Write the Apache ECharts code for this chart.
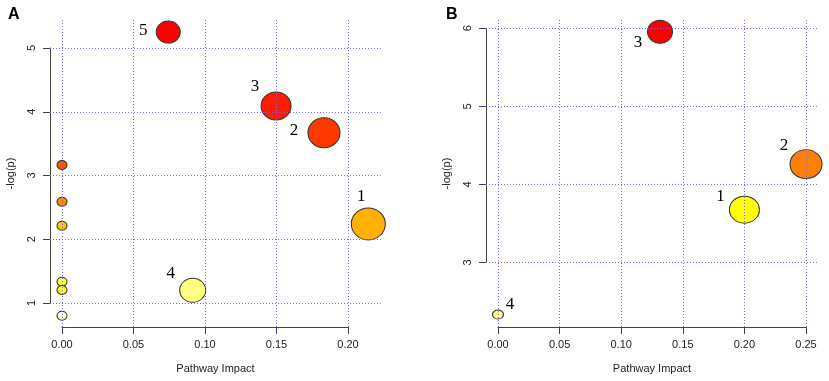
<!DOCTYPE html>
<html>
<head>
<meta charset="utf-8">
<script src="https://cdn.jsdelivr.net/npm/echarts@6/dist/echarts.min.js"></script>
<style>
  html, body { margin: 0; padding: 0; background: #fff; }
  #chart { width: 829px; height: 381px; }
</style>
</head>
<body>
<div id="chart"></div>
<script>
// ---- data ----
const xTicksA = [0, 0.05, 0.10, 0.15, 0.20];
const yTicksA = [1, 2, 3, 4, 5];
const xTicksB = [0, 0.05, 0.10, 0.15, 0.20, 0.25];
const yTicksB = [3, 4, 5, 6];

const impactA = [0.2142, 0.1832, 0.1497, 0.0914, 0.0743, 0, 0, 0, 0, 0, 0];
const logpA   = [2.24, 3.67, 4.09, 1.20, 5.25, 3.165, 2.589, 2.213, 1.334, 1.204, 0.801];
const tagA    = ['1', '2', '3', '4', '5', '', '', '', '', '', ''];

const impactB = [0.200, 0.250, 0.1315, 0.0];
const logpB   = [3.676, 4.26, 5.957, 2.333];
const tagB    = ['1', '2', '3', '4'];

// ---- styles ----
const colorA = ['#ffb000', '#ff3a00', '#ff1c00', '#ffff80', '#ff0000',
                '#ff5500', '#ff8a00', '#ffc200', '#ffff30', '#ffff10', '#ffffdc'];
const sizeA = [[34, 32], [32, 30], [30, 28], [26, 24], [24, 22],
               [10, 9], [10, 9], [10, 9], [10, 9], [10, 9], [10, 9]];
const offsetA = [[-7, -27], [-30, -2], [-21, -19], [-22, -17], [-25, -2],
                 [0, 0], [0, 0], [0, 0], [0, 0], [0, 0], [0, 0]];

const colorB = ['#ffff00', '#ff8000', '#ff0000', '#ffff80'];
const sizeB = [[30, 27], [32, 29], [25, 23], [11, 9]];
const offsetB = [[-24, -13], [-22, -19], [-22, 11], [12, -10]];

// pixel layout: tick range box and whole plot region of each panel
const panels = [
  { axis: { l: 62, r: 348, t: 48, b: 303 }, plot: { l: 50, r: 381, t: 20, b: 327 },
    xt: xTicksA, yr: [1, 5] },
  { axis: { l: 498, r: 806, t: 28.3, b: 262.5 }, plot: { l: 486, r: 818, t: 20, b: 327 },
    xt: xTicksB, yr: [3, 6] }
];

const grid = [], xAxis = [], yAxis = [];
const gridColor = '#6b6bff';
const axisColor = '#444';
const lblFont = { fontFamily: 'Liberation Sans', fontSize: 11, color: '#222' };
const hidden = { show: false, type: 'value', min: 0, max: 1 };

panels.forEach((p, i) => {
  const a = p.axis, q = p.plot;
  const xr = [p.xt[0], p.xt[p.xt.length - 1]];
  const xs = (xr[1] - xr[0]) / (a.r - a.l);
  const ys = (p.yr[1] - p.yr[0]) / (a.b - a.t);
  const bigX = [xr[0] - (a.l - q.l) * xs, xr[1] + (q.r - a.r) * xs];
  const bigY = [p.yr[0] - (q.b - a.b) * ys, p.yr[1] + (a.t - q.t) * ys];
  const g = 3 * i;

  // grid g: whole plot region (data, gridlines, axis names)
  grid.push({ left: q.l, top: q.t, width: q.r - q.l, height: q.b - q.t });
  xAxis.push({
    gridIndex: g, type: 'value', min: bigX[0], max: bigX[1],
    axisLine: { show: false, onZero: false }, axisTick: { show: false }, axisLabel: { show: false },
    splitLine: { show: false },
    name: 'Pathway Impact', nameLocation: 'middle', nameGap: 36,
    nameTextStyle: { fontFamily: 'Liberation Sans', fontSize: 11, color: '#222' }
  });
  yAxis.push({
    gridIndex: g, type: 'value', min: bigY[0], max: bigY[1],
    axisLine: { show: false, onZero: false }, axisTick: { show: false }, axisLabel: { show: false },
    splitLine: { show: false },
    name: '-log(p)', nameLocation: 'middle', nameGap: 34, nameRotate: 90,
    nameTextStyle: { fontFamily: 'Liberation Sans', fontSize: 11, color: '#222' }
  });

  // grid g+1: x tick range across the full plot height (bottom axis, tick labels as categories)
  grid.push({ left: a.l, top: q.t, width: a.r - a.l, height: q.b - q.t });
  xAxis.push({
    gridIndex: g + 1, type: 'category', boundaryGap: false,
    data: p.xt.map(v => v.toFixed(2)),
    axisLine: { show: true, onZero: false, lineStyle: { color: axisColor, width: 1 } },
    axisTick: { show: true, length: 7, interval: 0 },
    axisLabel: Object.assign({ margin: 12, interval: 0 }, lblFont),
    splitLine: { show: false }
  });
  yAxis.push(Object.assign({ gridIndex: g + 1 }, hidden));

  // grid g+2: y tick range across the full plot width (left axis)
  grid.push({ left: q.l, top: a.t, width: q.r - q.l, height: a.b - a.t });
  xAxis.push(Object.assign({ gridIndex: g + 2 }, hidden));
  yAxis.push({
    gridIndex: g + 2, type: 'value', min: p.yr[0], max: p.yr[1], interval: 1,
    axisLine: { show: true, onZero: false, lineStyle: { color: axisColor, width: 1 } },
    axisTick: { show: true, length: 7 },
    axisLabel: Object.assign({ margin: 13, rotate: 90 }, lblFont),
    splitLine: { show: false }
  });
});

function points(xv, yv, tags, colors, sizes, offs) {
  return xv.map((x, k) => ({
    value: [x, yv[k]],
    symbolSize: sizes[k],
    itemStyle: { color: colors[k] },
    label: { show: tags[k] !== '', formatter: tags[k], offset: offs[k] }
  }));
}

function gridLines(xt, yt) {
  return {
    silent: true, symbol: 'none', animation: false,
    label: { show: false },
    lineStyle: { color: gridColor, type: [1, 2], width: 1 },
    data: xt.map(v => ({ xAxis: v })).concat(yt.map(v => ({ yAxis: v })))
  };
}

const seriesBase = {
  type: 'scatter', symbol: 'circle', clip: false, animation: false,
  itemStyle: { borderColor: '#333', borderWidth: 1, opacity: 1 },
  label: { position: 'inside', fontFamily: 'Liberation Serif', fontSize: 17, color: '#000' },
  emphasis: { disabled: true }
};

const chart = echarts.init(document.getElementById('chart'), null, { renderer: 'canvas' });
chart.setOption({
  backgroundColor: '#fff',
  animation: false,
  title: [
    { text: 'A', left: 3, top: 2, textStyle: { fontFamily: 'Liberation Sans', fontWeight: 'bold', fontSize: 16, color: '#000' } },
    { text: 'B', left: 441, top: 2, textStyle: { fontFamily: 'Liberation Sans', fontWeight: 'bold', fontSize: 16, color: '#000' } }
  ],
  grid: grid,
  xAxis: xAxis,
  yAxis: yAxis,
  series: [
    Object.assign({}, seriesBase, {
      xAxisIndex: 0, yAxisIndex: 0, z: 3,
      data: points(impactA, logpA, tagA, colorA, sizeA, offsetA),
      markLine: gridLines(xTicksA, yTicksA)
    }),
    Object.assign({}, seriesBase, {
      xAxisIndex: 3, yAxisIndex: 3, z: 3,
      data: points(impactB, logpB, tagB, colorB, sizeB, offsetB),
      markLine: gridLines(xTicksB, yTicksB)
    })
  ]
});
</script>
</body>
</html>
